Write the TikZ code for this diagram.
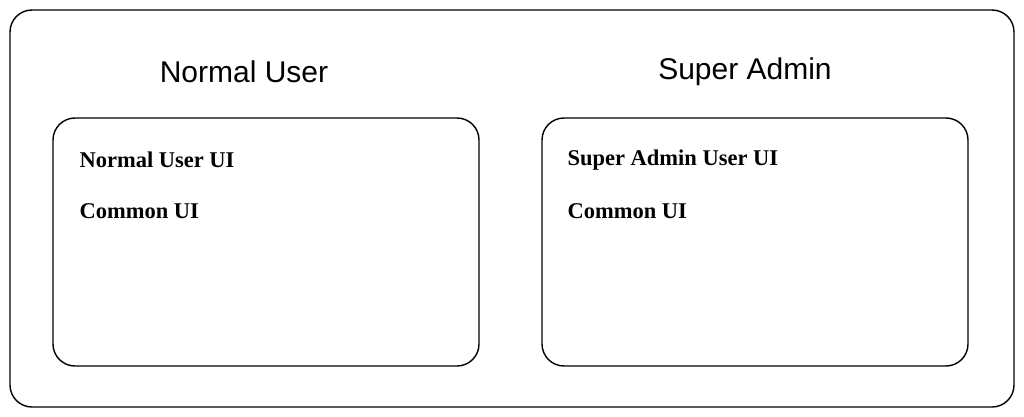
\documentclass[tikz,border=0pt]{standalone}
\usepackage{fontspec}
\setmainfont{Liberation Serif}
\newfontfamily\handfont{Liberation Sans}
\usetikzlibrary{positioning}
\tikzset{
frame/.style={draw, line width=1.4pt, rounded corners=22pt}, % outer and inner boxes
title/.style={font=\handfont\fontsize{30}{34}\selectfont}, % headings above boxes
entry/.style={font=\bfseries\fontsize{22.5}{26}\selectfont, anchor=west}, % UI lines
}
\begin{document}
\begin{tikzpicture}[x=1pt,y=-1pt]
\useasboundingbox (0,0) rectangle (1024,417);
\draw[frame] (10,10) rectangle (1014,407);
\draw[frame] (53,118) rectangle (479,366);
\draw[frame] (542,118) rectangle (968,366);
\node[title] (normal) at (244,72) {Normal User};
\node[title] (super) at (745,72) {Super Admin};
\node[entry] (nui) at (76,160) {Normal User UI};
\node[entry] (ncommon) at (76,211) {Common UI};
\node[entry] (sui) at (564,160) {Super Admin User UI};
\node[entry] (scommon) at (564,211) {Common UI};
\end{tikzpicture}
\end{document}
